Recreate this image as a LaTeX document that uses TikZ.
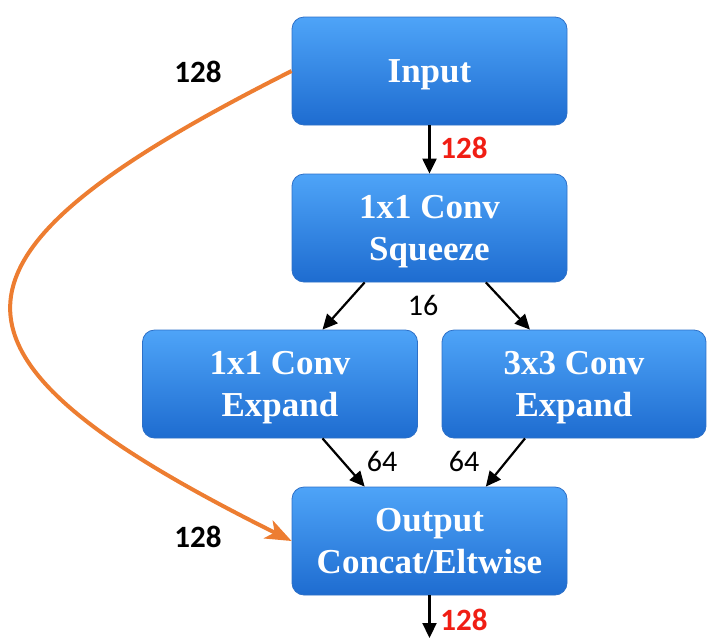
\documentclass[tikz,border=0pt]{standalone}
\usepackage{fontspec}
\setmainfont{Liberation Serif}
\setsansfont{Carlito}
\usetikzlibrary{arrows.meta}
\definecolor{boxtop}{RGB}{78,164,248}
\definecolor{boxbot}{RGB}{30,108,208}
\definecolor{boxedge}{RGB}{45,112,200}
\definecolor{skiporange}{RGB}{237,125,49}
\definecolor{numred}{RGB}{240,30,20}
\tikzset{
  block/.style={rectangle, rounded corners=6pt, draw=boxedge, line width=0.4pt,
    top color=boxtop, bottom color=boxbot, text=white, align=center,
    font=\fontsize{17.5}{21}\selectfont\bfseries, text depth=0pt,
    minimum width=137.5pt, minimum height=54pt, inner sep=0pt},
  num/.style={font=\sffamily\fontsize{15}{18}\selectfont, inner sep=0pt},
  numbold/.style={num, font=\sffamily\bfseries\fontsize{15.5}{18}\selectfont},
  numred/.style={numbold, text=numred},
  flow/.style={draw, line width=1.1pt, -{Triangle[length=7.5pt,width=7pt]}},
  skip/.style={draw=skiporange, line width=2pt, -{Stealth[length=13pt,width=10pt,inset=3.5pt]}}
}
\begin{document}
\begin{tikzpicture}[x=0.5pt,y=-0.5pt]
  \useasboundingbox (0,0) rectangle (707,638);
  % blocks
  \node[block] (input) at (429.5,71) {Input};
  \node[block] (squeeze) at (429.5,228) {1x1 Conv\\Squeeze};
  \node[block] (expa) at (280,384) {1x1 Conv\\Expand};
  \node[block, minimum width=132pt] (expb) at (574,384) {3x3 Conv\\Expand};
  \node[block] (output) at (429.5,541) {Output\\Concat/Eltwise};
  \coordinate (outend) at (429.5,638);
  % connectors
  \draw[flow] (input.south) -- (squeeze.north);
  \draw[flow] (squeeze.220) -- (expa.52);
  \draw[flow] (squeeze.316) -- (expb.129);
  \draw[flow] (expa.-52) -- (output.140);
  \draw[flow] (expb.228) -- (output.44.5);
  \draw[flow] (output.south) -- (outend);
  \draw[skip] (input.west) .. controls (-80,258) and (-82,355) .. (output.west);
  % channel counts
  \node[numbold] (skipin) at (198,72) {128};
  \node[numbold] (skipout) at (198,537) {128};
  \node[numred] (insize) at (464,148) {128};
  \node[num] (sqsize) at (423,305) {16};
  \node[num] (expasize) at (382,461) {64};
  \node[num] (expbsize) at (464,461) {64};
  \node[numred] (outsize) at (464,620) {128};
\end{tikzpicture}
\end{document}
